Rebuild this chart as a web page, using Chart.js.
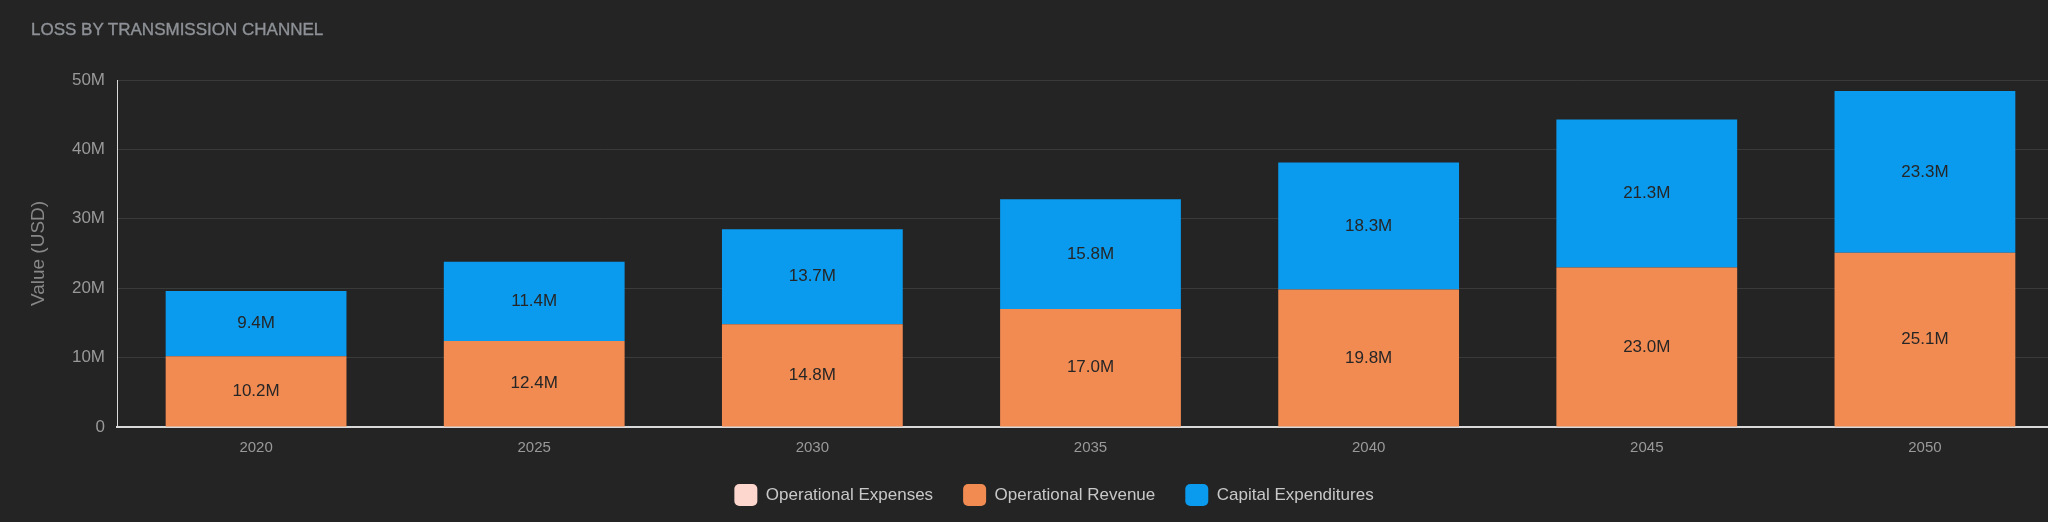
<!DOCTYPE html>
<html>
<head>
<meta charset="utf-8">
<title>Loss by Transmission Channel</title>
<script src="https://cdn.jsdelivr.net/npm/chart.js@4.4.1/dist/chart.umd.min.js"></script>
<style>
    html, body {
        margin: 0;
        width: 2048px;
        height: 522px;
        overflow: hidden;
        background: #242424;
    }
    #title {
        position: absolute;
        left: 31px;
        top: 21px;
        font: 17px "Liberation Sans", Arial, sans-serif;
        line-height: 17px;
        color: #8e9297;
        -webkit-text-stroke: 0.35px #8e9297;
        z-index: 2;
    }
    #wrap {
        position: absolute;
        left: 0;
        top: 0;
        width: 2064px;
        height: 531px;
    }
</style>
</head>
<body>
<div id="title">LOSS BY TRANSMISSION CHANNEL</div>
<div id="wrap"><canvas id="lossChart"></canvas></div>

<script>
// ========================================
// DATA (values in millions of USD)
// ========================================
const years = ['2020', '2025', '2030', '2035', '2040', '2045', '2050'];
const operationalExpenses = [null, null, null, null, null, null, null];
const operationalRevenue = [10.2, 12.4, 14.8, 17.0, 19.8, 23.0, 25.1];
const capitalExpenditures = [9.4, 11.4, 13.7, 15.8, 18.3, 21.3, 23.3];
const yTicks = [0, 10, 20, 30, 40, 50];

const FONT = '"Liberation Sans", Arial, sans-serif';

// Draws "12.4M" style labels in the middle of each stacked segment
const barLabels = {
    id: 'barLabels',
    afterDatasetsDraw(chart) {
        const ctx = chart.ctx;
        ctx.save();
        ctx.font = '17px ' + FONT;
        ctx.fillStyle = '#262626';
        ctx.textAlign = 'center';
        ctx.textBaseline = 'middle';
        chart.data.datasets.forEach((ds, i) => {
            const meta = chart.getDatasetMeta(i);
            if (meta.hidden) return;
            meta.data.forEach((bar, j) => {
                const v = ds.data[j];
                if (v == null) return;
                const p = bar.getProps(['x', 'y', 'base'], true);
                ctx.fillText(v.toFixed(1) + 'M', p.x, (p.y + p.base) / 2);
            });
        });
        ctx.restore();
    }
};

// The original legend sits a little right of centre and a bit higher
const legendNudge = {
    id: 'legendNudge',
    afterLayout(chart) {
        if (!chart.legend) return;
        chart.legend.left += 20;
        chart.legend.top -= 15;
        chart.legend.bottom -= 15;
    }
};

document.addEventListener('DOMContentLoaded', () => {
    new Chart(document.getElementById('lossChart'), {
        type: 'bar',
        data: {
            labels: years,
            datasets: [
                {
                    label: 'Operational Expenses',
                    data: operationalExpenses,
                    backgroundColor: '#fdd6cd',
                    borderWidth: 0
                },
                {
                    label: 'Operational Revenue',
                    data: operationalRevenue,
                    backgroundColor: '#f28b52',
                    borderWidth: 0
                },
                {
                    label: 'Capital Expenditures',
                    data: capitalExpenditures,
                    backgroundColor: '#0a9aee',
                    borderWidth: 0
                }
            ]
        },
        plugins: [barLabels, legendNudge],
        options: {
            responsive: true,
            maintainAspectRatio: false,
            animation: false,
            layout: {
                padding: { top: 80, left: 24, right: 0, bottom: 0 }
            },
            datasets: {
                bar: {
                    barPercentage: 0.65,
                    categoryPercentage: 1
                }
            },
            plugins: {
                legend: {
                    position: 'bottom',
                    labels: {
                        color: '#c8c8c8',
                        font: { size: 17, family: FONT },
                        boxWidth: 23,
                        boxHeight: 22,
                        useBorderRadius: true,
                        borderRadius: 5,
                        padding: 30
                    }
                },
                tooltip: { enabled: false }
            },
            scales: {
                x: {
                    stacked: true,
                    grid: { display: false, drawTicks: false },
                    border: { color: '#d9d9d9', width: 2 },
                    ticks: {
                        color: '#999999',
                        font: { size: 15, family: FONT },
                        padding: 12
                    }
                },
                y: {
                    stacked: true,
                    min: yTicks[0],
                    max: yTicks[yTicks.length - 1],
                    afterBuildTicks: (axis) => {
                        axis.ticks = yTicks.map(v => ({ value: v }));
                    },
                    grid: {
                        color: '#3a3a3a',
                        lineWidth: 1,
                        drawTicks: false
                    },
                    border: { color: '#d9d9d9', width: 1 },
                    ticks: {
                        color: '#999999',
                        font: { size: 17, family: FONT },
                        padding: 12,
                        callback: (v) => (v === 0 ? '0' : v + 'M')
                    },
                    title: {
                        display: true,
                        text: 'Value (USD)',
                        color: '#888888',
                        font: { size: 19, family: FONT },
                        padding: { top: 3, bottom: 4 }
                    },
                    afterFit: (axis) => { axis.width = 93; }
                }
            }
        }
    });
});
</script>
</body>
</html>
